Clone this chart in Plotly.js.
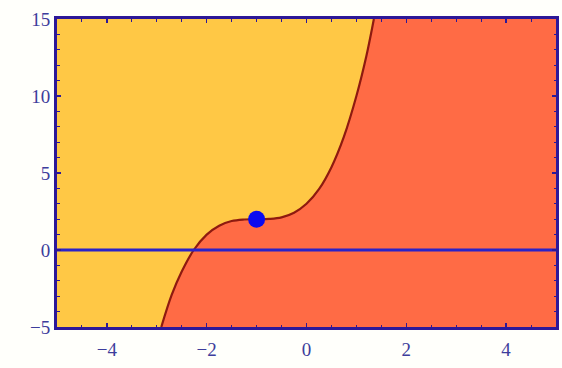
<!DOCTYPE html>
<html><head><meta charset="utf-8">
<script src="https://cdn.plot.ly/plotly-3.0.1.min.js"></script>
<style>html,body{margin:0;padding:0;background:#fff;}#c{width:562px;height:368px;}</style>
</head><body><div id="c"></div>
<script>
// Curve
const curveX = [-2.91,-2.7,-2.5,-2.26,-2,-1.75,-1.5,-1.25,-1,-0.75,-0.5,-0.25,0,0.25,0.5,0.75,1,1.2,1.35];
const curveY = [-5,-2.9,-1.4,0,1,1.58,1.88,1.98,2,2.02,2.12,2.42,3,3.95,5.38,7.36,10,12.6,15];
const xRange = [-5,5];
const yRange = [-5,15];
const pointX = [-1];
const pointY = [2];
const xTicks = [-4,-2,0,2,4];
const yTicks = [-5,0,5,10,15];

const fillX = curveX.concat([xRange[1], xRange[1]]);
const fillY = curveY.concat([yRange[1], yRange[0]]);

const frame = '#2d1898';
const tickFont = {family:'Liberation Serif, serif', size:19, color:'#3d3d9c'};

const data = [
  {x:fillX, y:fillY, type:'scatter', mode:'lines', fill:'toself', fillcolor:'#ff6b45', line:{width:0}, hoverinfo:'skip'},
  {x:curveX, y:curveY, type:'scatter', mode:'lines', line:{color:'#8e1a10', width:2.2, shape:'spline'}},
  {x:xRange, y:[0,0], type:'scatter', mode:'lines', line:{color:'#2a22c8', width:3}},
  {x:pointX, y:pointY, type:'scatter', mode:'markers', marker:{color:'#0a0af0', size:17}}
];
const layout = {
  width:562, height:368, showlegend:false,
  margin:{l:57, r:6, t:19, b:41},
  paper_bgcolor:'#fffffb', plot_bgcolor:'#ffc845',
  xaxis:{range:xRange, tickvals:xTicks, ticktext:xTicks.map(v=>v<0?'\u2212'+Math.abs(v):String(v)),
    showgrid:false, zeroline:false, showline:true, linecolor:frame, linewidth:3, mirror:'allticks',
    ticks:'inside', ticklen:4, tickcolor:frame, tickwidth:1.5, tickfont:tickFont, ticklabelstandoff:3,
    minor:{dtick:0.5, tick0:0, ticks:'inside', ticklen:2.5, tickcolor:frame, tickwidth:1}},
  yaxis:{range:yRange, tickvals:yTicks, ticktext:yTicks.map(v=>v<0?'\u2212'+Math.abs(v):String(v)),
    showgrid:false, zeroline:false, showline:true, linecolor:frame, linewidth:3, mirror:'allticks',
    ticks:'inside', ticklen:4, tickcolor:frame, tickwidth:1.5, tickfont:tickFont,
    minor:{dtick:1, tick0:0, ticks:'inside', ticklen:2.5, tickcolor:frame, tickwidth:1}}
};
Plotly.newPlot('c', data, layout, {displayModeBar:false, staticPlot:true});
</script></body></html>
